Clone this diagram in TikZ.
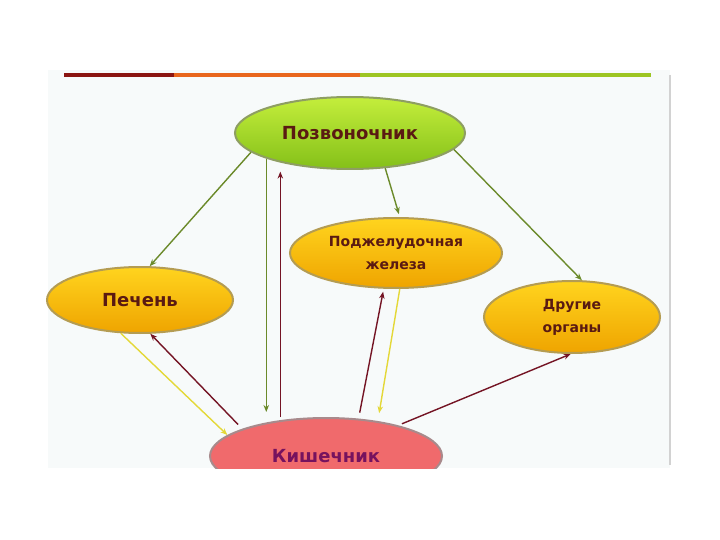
\documentclass[tikz,border=0pt]{standalone}
\usepackage{fontspec}
\setmainfont{DejaVu Sans}
\usetikzlibrary{shapes.geometric, arrows.meta}

\definecolor{PanelFill}{HTML}{F7FAFA}
\definecolor{BarRed}{HTML}{8A1512}
\definecolor{BarOrange}{HTML}{E8661C}
\definecolor{BarGreen}{HTML}{9CC522}
\definecolor{SpineTop}{HTML}{C4EE3C}
\definecolor{SpineBottom}{HTML}{84C018}
\definecolor{SpineEdge}{HTML}{8E9E62}
\definecolor{OrganTop}{HTML}{FFD41E}
\definecolor{OrganBottom}{HTML}{EFA400}
\definecolor{OrganEdge}{HTML}{B49C52}
\definecolor{GutFill}{HTML}{F06A6C}
\definecolor{GutEdge}{HTML}{A88A8C}
\definecolor{LabelText}{HTML}{5A1A12}
\definecolor{GutText}{HTML}{76125E}
\definecolor{DownArrow}{HTML}{6B8A2A}
\definecolor{UpArrow}{HTML}{741424}
\definecolor{SideArrow}{HTML}{E4D838}

\begin{document}
\begin{tikzpicture}[x=1pt, y=-1pt,
    blob/.style={ellipse, inner sep=0pt, line width=2pt, align=center, text=LabelText},
    spinebox/.style={blob, draw=SpineEdge, top color=SpineTop, bottom color=SpineBottom},
    organ/.style={blob, draw=OrganEdge, top color=OrganTop, bottom color=OrganBottom},
    gutbox/.style={blob, draw=GutEdge, fill=GutFill, text=GutText},
    big/.style={font=\bfseries\fontsize{18}{22}\selectfont},
    small/.style={font=\bfseries\fontsize{14}{23}\selectfont},
    link/.style={line width=1.4pt, -{Stealth[length=7pt, width=5.5pt]}},
    down/.style={link, DownArrow},
    up/.style={link, UpArrow},
    side/.style={link, SideArrow}]

\useasboundingbox (0,0) rectangle (720,540);
\fill[PanelFill] (48,70) rectangle (670,468);
\draw[gray!35, line width=1.5pt] (670,75) -- (670,465);
\fill[BarRed] (64,73) rectangle (174,77);
\fill[BarOrange] (174,73) rectangle (360,77);
\fill[BarGreen] (360,73) rectangle (651,77);

% organs
\node[spinebox, big, minimum width=230, minimum height=72] (spine) at (350,133) {Позвоночник};
\node[organ, big, minimum width=186, minimum height=66] (liver) at (140,300) {Печень};
\node[organ, small, minimum width=212, minimum height=70] (pancreas) at (396,253) {Поджелудочная\\железа};
\node[organ, small, minimum width=176, minimum height=72] (organs) at (572,317) {Другие\\органы};
\begin{scope}
  \clip (48,70) rectangle (670,468);
  \node[gutbox, big, minimum width=232, minimum height=76] (gut) at (326,456) {Кишечник};
\end{scope}

% from the spine
\draw[down] (spine.191) -- (liver.74);
\draw[down, shorten >=5pt] (spine.197) -- (spine.197 |- gut.north);
\draw[down, shorten >=3pt] (spine.315) -- (pancreas.84);
\draw[down] (spine.351) -- (organs.75);

% back from the gut
\draw[up, shorten >=9pt] (gut.north -| spine.203) -- (spine.203);
\draw[up, shorten <=6pt] (gut.162) -- (liver.287);
\draw[up, shorten <=6pt, shorten >=3pt] (gut.49) -- (pancreas.251);
\draw[up, shorten <=4pt] (gut.23) -- (organs.268);

% into the gut
\draw[side] (liver.240) -- (gut.168);
\draw[side, shorten >=8pt] (pancreas.276) -- (gut.34);

\end{tikzpicture}
\end{document}
